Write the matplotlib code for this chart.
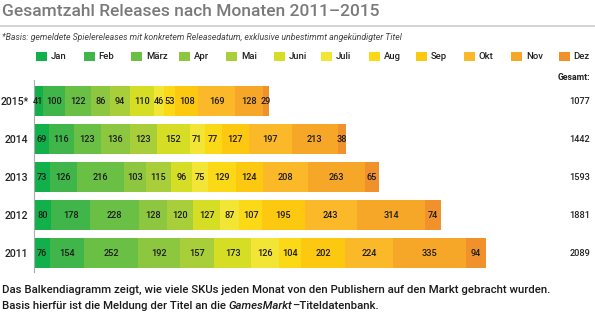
import matplotlib.pyplot as plt
from matplotlib.patches import Rectangle

plt.rcParams['font.family'] = ['Roboto', 'DejaVu Sans']

# Data
years = ["2015*", "2014", "2013", "2012", "2011"]
months = ["Jan", "Feb", "März", "Apr", "Mai", "Juni", "Juli", "Aug", "Sep", "Okt", "Nov", "Dez"]
releases = [
    [41, 100, 122, 86, 94, 110, 46, 53, 108, 169, 128, 29],
    [69, 116, 123, 136, 123, 152, 71, 77, 127, 197, 213, 38],
    [73, 126, 216, 103, 115, 96, 75, 129, 124, 208, 263, 65],
    [80, 178, 228, 128, 120, 127, 87, 107, 195, 243, 314, 74],
    [76, 154, 252, 192, 157, 173, 126, 104, 202, 224, 335, 94],
]
totals = [1077, 1442, 1593, 1881, 2089]
colors = ["#12b04b", "#3fb54a", "#6abf45", "#8dc63f", "#a8cf3a", "#d5de24",
          "#f2e535", "#fbd916", "#fdc810", "#fbb829", "#f7a727", "#f1912b"]

W, H = 595, 315
fig = plt.figure(figsize=(W / 100, H / 100), dpi=100)

# -------------------------
# Header
# -------------------------
fig.text(2 / W, 1 - 11 / H, "Gesamtzahl Releases nach Monaten 2011\u20132015",
         fontsize=12.5, color="#7a7a7a", va="center", ha="left", fontweight="medium")
fig.add_artist(plt.Line2D([0, 1], [1 - 26 / H, 1 - 26 / H], color="#cccccc", lw=1.2))
fig.text(2 / W, 1 - 38 / H,
         "*Basis: gemeldete Spielereleases mit konkretem Releasedatum, exklusive unbestimmt angekündigter Titel",
         fontsize=6.3, style="italic", color="#444444", va="center", ha="left")

# legend
for i, (m, c) in enumerate(zip(months, colors)):
    x0 = 36 + i * 47.5
    fig.add_artist(Rectangle((x0 / W, 1 - 61 / H), 11 / W, 9 / H, color=c, lw=0))
    fig.text((x0 + 15) / W, 1 - 56.5 / H, m, fontsize=6.8, color="#222222",
             va="center", ha="left", fontweight="medium")

fig.text(590 / W, 1 - 78 / H, "Gesamt:", fontsize=6.3, color="#222222",
         va="center", ha="right", fontweight="bold")

# -------------------------
# Bars
# -------------------------
ax = fig.add_axes([34 / W, 1 - 272 / H, 556 / W, 192 / H])
ypos = list(range(len(years)))
for row, vals in enumerate(releases):
    left = 0
    for j, v in enumerate(vals):
        ax.barh(ypos[row], v, left=left, height=0.79, color=colors[j], lw=0)
        ax.text(left + v / 2, ypos[row], str(v), ha="center", va="center",
                fontsize=6.6, color="#1a1a1a", fontweight="medium")
        left += v
    ax.text(1.0, ypos[row], str(totals[row]), transform=ax.get_yaxis_transform(),
            ha="right", va="center", fontsize=6.6, color="#222222", fontweight="medium")

ax.set_xlim(0, 556 / 0.2164)
ax.set_ylim(4.5, -0.553)
ax.set_yticks(ypos)
ax.set_yticklabels(years, fontsize=7.6, color="#222222", fontweight="medium")
ax.tick_params(axis="y", length=0, pad=4)
ax.set_xticks([])
for s in ["top", "right", "bottom"]:
    ax.spines[s].set_visible(False)
ax.spines["left"].set_color("#aaaaaa")
ax.spines["left"].set_linewidth(0.8)

# -------------------------
# Footer
# -------------------------
fig.text(2 / W, 1 - 290 / H,
         "Das Balkendiagramm zeigt, wie viele SKUs jeden Monat von den Publishern auf den Markt gebracht wurden.",
         fontsize=8.2, color="#1a1a1a", va="center", ha="left", fontweight="medium")
fig.text(2 / W, 1 - 306 / H, "Basis hierfür ist die Meldung der Titel an die ",
         fontsize=8.2, color="#1a1a1a", va="center", ha="left", fontweight="medium")
# italic part appended after measuring
r = fig.canvas.get_renderer()
bb = fig.texts[-1].get_window_extent(renderer=r)
t2 = fig.text(bb.x1 / W, 1 - 306 / H, "GamesMarkt", fontsize=8.2, style="italic",
              color="#1a1a1a", va="center", ha="left", fontweight="medium")
bb2 = t2.get_window_extent(renderer=r)
fig.text(bb2.x1 / W, 1 - 306 / H, "\u2013Titeldatenbank.", fontsize=8.2,
         color="#1a1a1a", va="center", ha="left", fontweight="medium")

fig.savefig("out.png", dpi=100)
